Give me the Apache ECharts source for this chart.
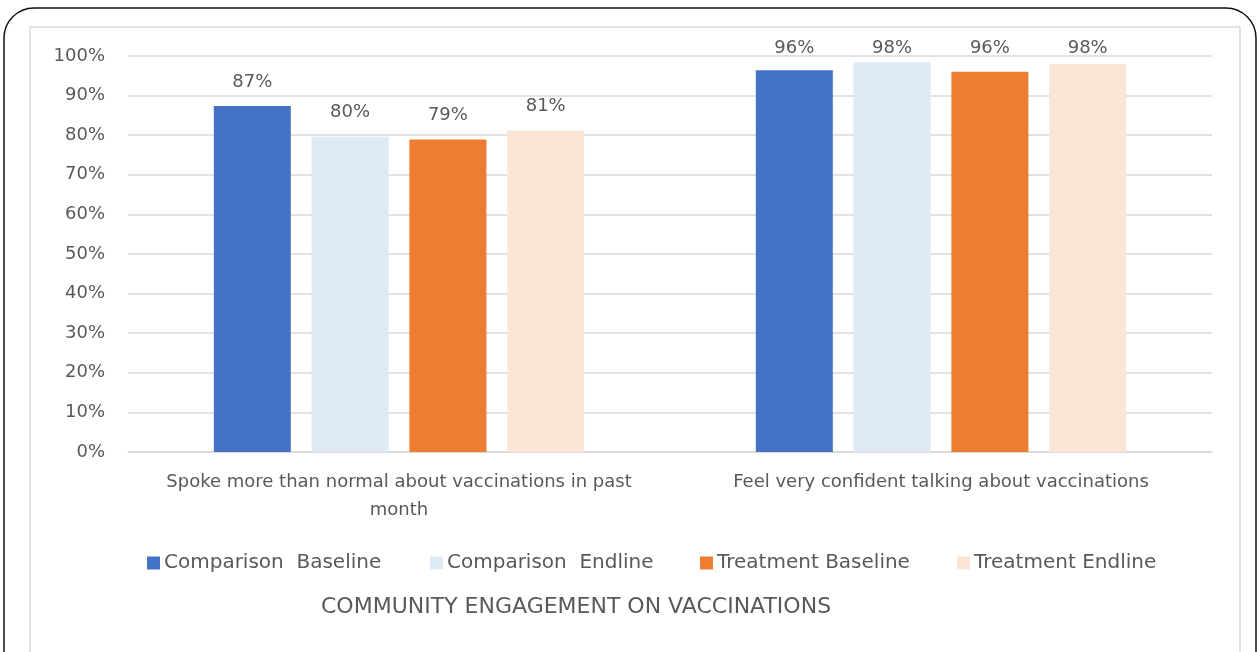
<!DOCTYPE html>
<html>
<head>
<meta charset="utf-8">
<script src="https://cdn.jsdelivr.net/npm/echarts@6/dist/echarts.min.js"></script>
<style>
  html, body { margin: 0; padding: 0; background: #fff; }
  #main { width: 1260px; height: 652px; }
</style>
</head>
<body>
<div id="main"></div>
<script>
// categories and series values (percent)
var categories = ['Spoke more than normal about vaccinations in past\nmonth', 'Feel very confident talking about vaccinations'];
var seriesNames = ['Comparison  Baseline', 'Comparison  Endline', 'Treatment Baseline', 'Treatment Endline'];
var compBaseline = [87.4, 96.4];
var compEndline = [79.6, 98.4];
var treatBaseline = [78.9, 96.0];
var treatEndline = [81.2, 98.0];
var yTicks = [0, 10, 20, 30, 40, 50, 60, 70, 80, 90, 100];

var colors = ['#4472c4', '#deebf7', '#ed7d31', '#fbe5d6'];
var textColor = '#595959';
var font = '"DejaVu Sans", "Noto Sans", sans-serif';

var myChart = echarts.init(document.getElementById('main'));

function makeSeries(name, data, color) {
    return {
        name: name,
        type: 'bar',
        data: data,
        barWidth: 77,
        barGap: '27%',
        itemStyle: { color: color },
        label: {
            show: true,
            position: 'top',
            distance: 15,
            color: textColor,
            fontFamily: font,
            fontSize: 18,
            formatter: function (p) { return Math.round(p.value) + '%'; }
        },
        labelLayout: function (params) {
            var r = params.labelRect;
            // keep labels inside the plot area like Excel does
            var bottom = Math.max(r.y + r.height, 57);
            return { x: r.x + r.width / 2, y: bottom, align: 'center', verticalAlign: 'bottom' };
        }
    };
}

// one legend per item so each sits where the original put it
var legendLeft = [142, 425, 695, 952];
var legends = seriesNames.map(function (n, i) {
    return {
        data: [n],
        left: legendLeft[i],
        top: 548,
        icon: 'rect',
        itemWidth: 13,
        itemHeight: 13,
        itemGap: 0,
        textStyle: { color: textColor, fontFamily: font, fontSize: 20, padding: [0, 0, 0, -1] }
    };
});

var option = {
    animation: false,
    backgroundColor: '#fff',
    color: colors,
    graphic: [
        {
            type: 'rect',
            shape: { x: 4, y: 8, width: 1252, height: 700, r: [30, 30, 0, 0] },
            style: { fill: 'none', stroke: '#111', lineWidth: 1.5 },
            z: 10
        },
        {
            type: 'rect',
            shape: { x: 30, y: 27, width: 1210, height: 680 },
            style: { fill: 'none', stroke: '#d9d9d9', lineWidth: 1.5 },
            z: 10
        }
    ],
    title: {
        text: 'COMMUNITY ENGAGEMENT ON VACCINATIONS',
        left: 316,
        top: 591,
        textStyle: { color: textColor, fontFamily: font, fontSize: 22, fontWeight: 'normal' }
    },
    legend: legends,
    grid: {
        left: 128,
        right: 48,
        top: 56,
        bottom: 200
    },
    xAxis: {
        type: 'category',
        data: categories,
        axisLine: { show: true, lineStyle: { color: '#d9d9d9', width: 1.5 } },
        axisTick: { show: false },
        axisLabel: {
            interval: 0,
            color: textColor,
            fontFamily: font,
            fontSize: 18,
            lineHeight: 28,
            margin: 16
        }
    },
    yAxis: {
        type: 'value',
        min: yTicks[0],
        max: yTicks[yTicks.length - 1],
        interval: 10,
        axisLine: { show: false },
        axisTick: { show: false },
        splitLine: { lineStyle: { color: '#d9d9d9', width: 1.5 } },
        axisLabel: {
            color: textColor,
            fontFamily: font,
            fontSize: 18,
            margin: 23,
            formatter: '{value}%'
        }
    },
    series: [
        makeSeries(seriesNames[0], compBaseline, colors[0]),
        makeSeries(seriesNames[1], compEndline, colors[1]),
        makeSeries(seriesNames[2], treatBaseline, colors[2]),
        makeSeries(seriesNames[3], treatEndline, colors[3])
    ]
};
myChart.setOption(option);
</script>
</body>
</html>
